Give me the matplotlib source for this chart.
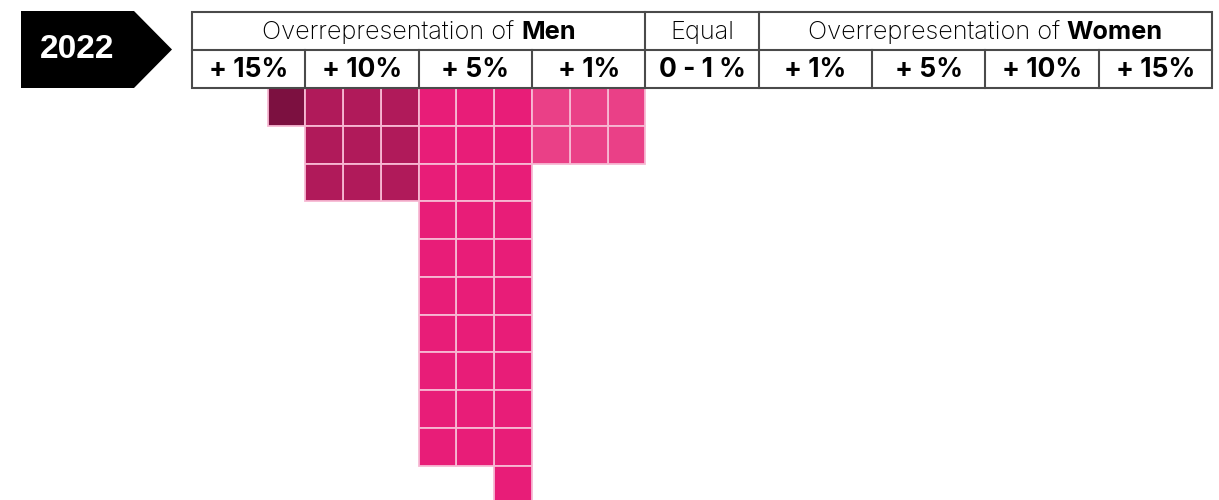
import numpy as np
import matplotlib
matplotlib.use('Agg')
import matplotlib.pyplot as plt
from matplotlib.patches import Rectangle, Polygon
from matplotlib.transforms import ScaledTranslation

# data: number of squares per category
year = '2022'
groups = ['Overrepresentation of ', 'Equal', 'Overrepresentation of ']
group_bold = ['Men', '', 'Women']
group_span = [4, 1, 4]
categories = ['+ 15%', '+ 10%', '+ 5%', '+ 1%', '0 - 1 %', '+ 1%', '+ 5%', '+ 10%', '+ 15%']
counts = [1, 9, 31, 6, 0, 0, 0, 0, 0]
side = ['m', 'm', 'm', 'm', 'e', 'w', 'w', 'w', 'w']
colors = ['#7c1040', '#b01a5a', '#e81d78', '#ea4087', '#cccccc',
          '#9fc5e8', '#6fa8dc', '#3d85c6', '#0b5394']

per_col = 3          # squares across in each category column
line_col = '#4a4a4a'
cell_edge = '#f7b9d3'

fig = plt.figure(figsize=(12.19, 5), dpi=100)
ax = fig.add_axes([0, 0, 1, 1])
u = 1020 / 27.0  # pixels per square
ax.set_xlim(-192 / u, (1219 - 192) / u)
ax.set_ylim(412 / u, -88 / u)
ax.axis('off')

ncat = len(categories)
width = ncat * per_col

# squares
for i, n in enumerate(counts):
    x0 = i * per_col
    for k in range(n):
        row, pos = divmod(k, per_col)
        if side[i] == 'm':
            x = x0 + per_col - 1 - pos
        else:
            x = x0 + pos
        ax.add_patch(Rectangle((x, row), 1, 1, facecolor=colors[i],
                               edgecolor=cell_edge, linewidth=1.3, zorder=2))

# header table
ax.add_patch(Rectangle((0, -2), width, 2, facecolor='white',
                       edgecolor=line_col, linewidth=1.5, zorder=3))
ax.plot([0, width], [-1, -1], color=line_col, linewidth=1.5, zorder=4)
for i in range(1, ncat):
    ax.plot([i * per_col] * 2, [-1, 0], color=line_col, linewidth=1.5, zorder=4)
edges = np.cumsum([0] + group_span) * per_col
for e in edges[1:-1]:
    ax.plot([e, e], [-2, -1], color=line_col, linewidth=1.5, zorder=4)

# category labels
for i, c in enumerate(categories):
    ax.text(i * per_col + per_col / 2, -0.47, c, ha='center', va='center',
            fontsize=19, fontweight='bold', family='Inter', zorder=5)

# group labels (regular + bold part)
renderer = fig.canvas.get_renderer()
for g, b, a, e in zip(groups, group_bold, edges[:-1], edges[1:]):
    cx = (a + e) / 2
    if not b:
        ax.text(cx, -1.47, g, ha='center', va='center', fontsize=18.3,
                fontweight='light', family='Inter', zorder=5)
        continue
    t1 = ax.text(cx, -1.47, g.strip(), ha='left', va='center', fontsize=18.3,
                 fontweight='light', family='Inter', zorder=5)
    t2 = ax.text(cx, -1.47, b, ha='left', va='center', fontsize=18.3,
                 fontweight='bold', family='Inter', zorder=5)
    w1 = t1.get_window_extent(renderer).width
    w2 = t2.get_window_extent(renderer).width
    gap = 7
    tot = w1 + gap + w2
    t1.set_transform(ax.transData + ScaledTranslation(-tot / 2 / 100, 0, fig.dpi_scale_trans))
    t2.set_transform(ax.transData + ScaledTranslation((-tot / 2 + w1 + gap) / 100, 0, fig.dpi_scale_trans))

# year badge
bx0, bx1, btip = -171 / u, -58 / u, -20 / u
by0, by1 = -77 / u, 0
badge = Polygon([(bx0, by0), (bx1, by0), (btip, (by0 + by1) / 2), (bx1, by1), (bx0, by1)],
                closed=True, facecolor='black', edgecolor='none', zorder=5)
ax.add_patch(badge)
ax.text(-115 / u, (by0 + by1) / 2, year, ha='center', va='center', color='white',
        fontsize=24, fontweight='bold', family='Liberation Sans', zorder=6)

fig.savefig('out.png', dpi=100, facecolor='white')
